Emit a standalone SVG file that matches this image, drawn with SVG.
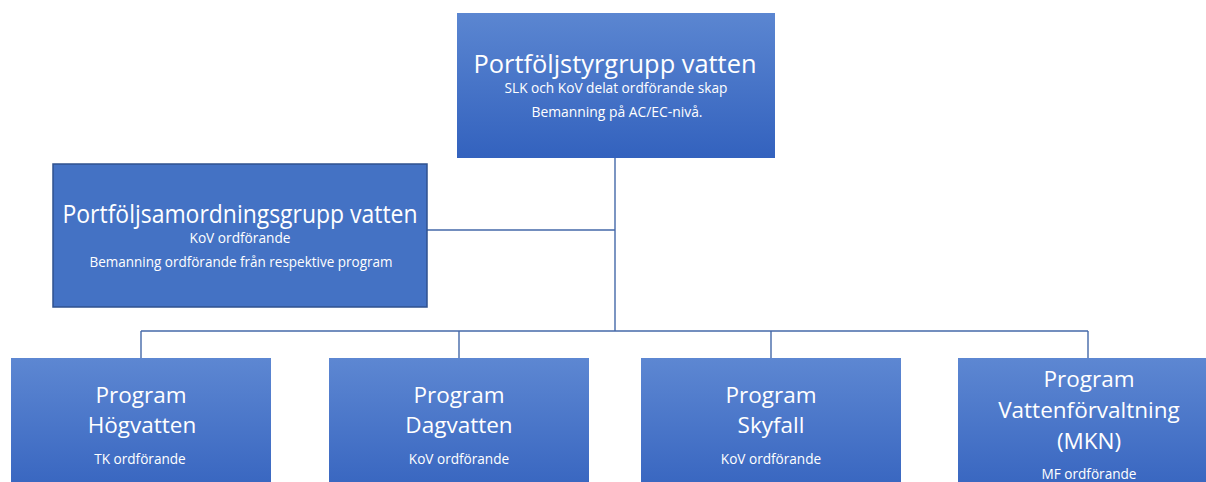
<svg xmlns="http://www.w3.org/2000/svg" width="1206" height="482" viewBox="0 0 1206 482">
<defs>
<linearGradient id="gTop" x1="0" y1="0" x2="0" y2="1">
<stop offset="0" stop-color="#5B86D1"/>
<stop offset="1" stop-color="#3362BE"/>
</linearGradient>
<linearGradient id="gProg" x1="0" y1="0" x2="0" y2="1">
<stop offset="0" stop-color="#5D87D2"/>
<stop offset="1" stop-color="#3462BE"/>
</linearGradient>
<style>
.t{font-family:"Open Sans","Liberation Sans",sans-serif;fill:#FFFFFF;text-anchor:middle}
.big{font-size:25px}
.mid{font-size:22.5px}
.sm{font-size:13.6px}
.con{fill:none;stroke:#4468A8;stroke-width:1.4}
</style>
</defs>
<rect width="1206" height="482" fill="#FFFFFF"/>
<g id="connectors">
<line class="con" x1="615" y1="158" x2="615" y2="331"/>
<line class="con" x1="427" y1="230" x2="615" y2="230"/>
<line class="con" x1="141" y1="331" x2="1088" y2="331"/>
<line class="con" x1="141" y1="331" x2="141" y2="358"/>
<line class="con" x1="459" y1="331" x2="459" y2="358"/>
<line class="con" x1="771" y1="331" x2="771" y2="358"/>
<line class="con" x1="1088" y1="331" x2="1088" y2="358"/>
</g>
<g id="portfoljstyrgrupp">
<rect x="457" y="13" width="318" height="145" fill="url(#gTop)"/>
<text class="t big" x="615" y="73" textLength="283" lengthAdjust="spacingAndGlyphs">Portföljstyrgrupp vatten</text>
<text class="t sm" x="616" y="93" textLength="223" lengthAdjust="spacingAndGlyphs">SLK och KoV delat ordförande skap</text>
<text class="t sm" x="617" y="117" textLength="171" lengthAdjust="spacingAndGlyphs">Bemanning på AC/EC-nivå.</text>
</g>
<g id="portfoljsamordningsgrupp">
<rect x="53" y="164" width="374" height="143" fill="#4472C4" stroke="#2F528F" stroke-width="1.5"/>
<text class="t big" x="240" y="223" textLength="355" lengthAdjust="spacingAndGlyphs">Portföljsamordningsgrupp vatten</text>
<text class="t sm" x="240" y="243" textLength="101" lengthAdjust="spacingAndGlyphs">KoV ordförande</text>
<text class="t sm" x="241" y="267" textLength="303" lengthAdjust="spacingAndGlyphs">Bemanning ordförande från respektive program</text>
</g>
<g id="program-hogvatten">
<rect x="11" y="358" width="260" height="145" fill="url(#gProg)"/>
<text class="t mid" x="141" y="403">Program</text>
<text class="t mid" x="142" y="433">Högvatten</text>
<text class="t sm" x="140" y="464">TK ordförande</text>
</g>
<g id="program-dagvatten">
<rect x="329" y="358" width="260" height="145" fill="url(#gProg)"/>
<text class="t mid" x="459" y="403">Program</text>
<text class="t mid" x="459" y="433">Dagvatten</text>
<text class="t sm" x="459" y="464">KoV ordförande</text>
</g>
<g id="program-skyfall">
<rect x="641" y="358" width="260" height="145" fill="url(#gProg)"/>
<text class="t mid" x="771" y="403">Program</text>
<text class="t mid" x="771" y="433">Skyfall</text>
<text class="t sm" x="771" y="464">KoV ordförande</text>
</g>
<g id="program-vattenforvaltning">
<rect x="958" y="358" width="260" height="145" fill="url(#gProg)"/>
<text class="t mid" x="1089" y="387">Program</text>
<text class="t mid" x="1089" y="418">Vattenförvaltning</text>
<text class="t mid" x="1089" y="449">(MKN)</text>
<text class="t sm" x="1089" y="479">MF ordförande</text>
</g>
</svg>
